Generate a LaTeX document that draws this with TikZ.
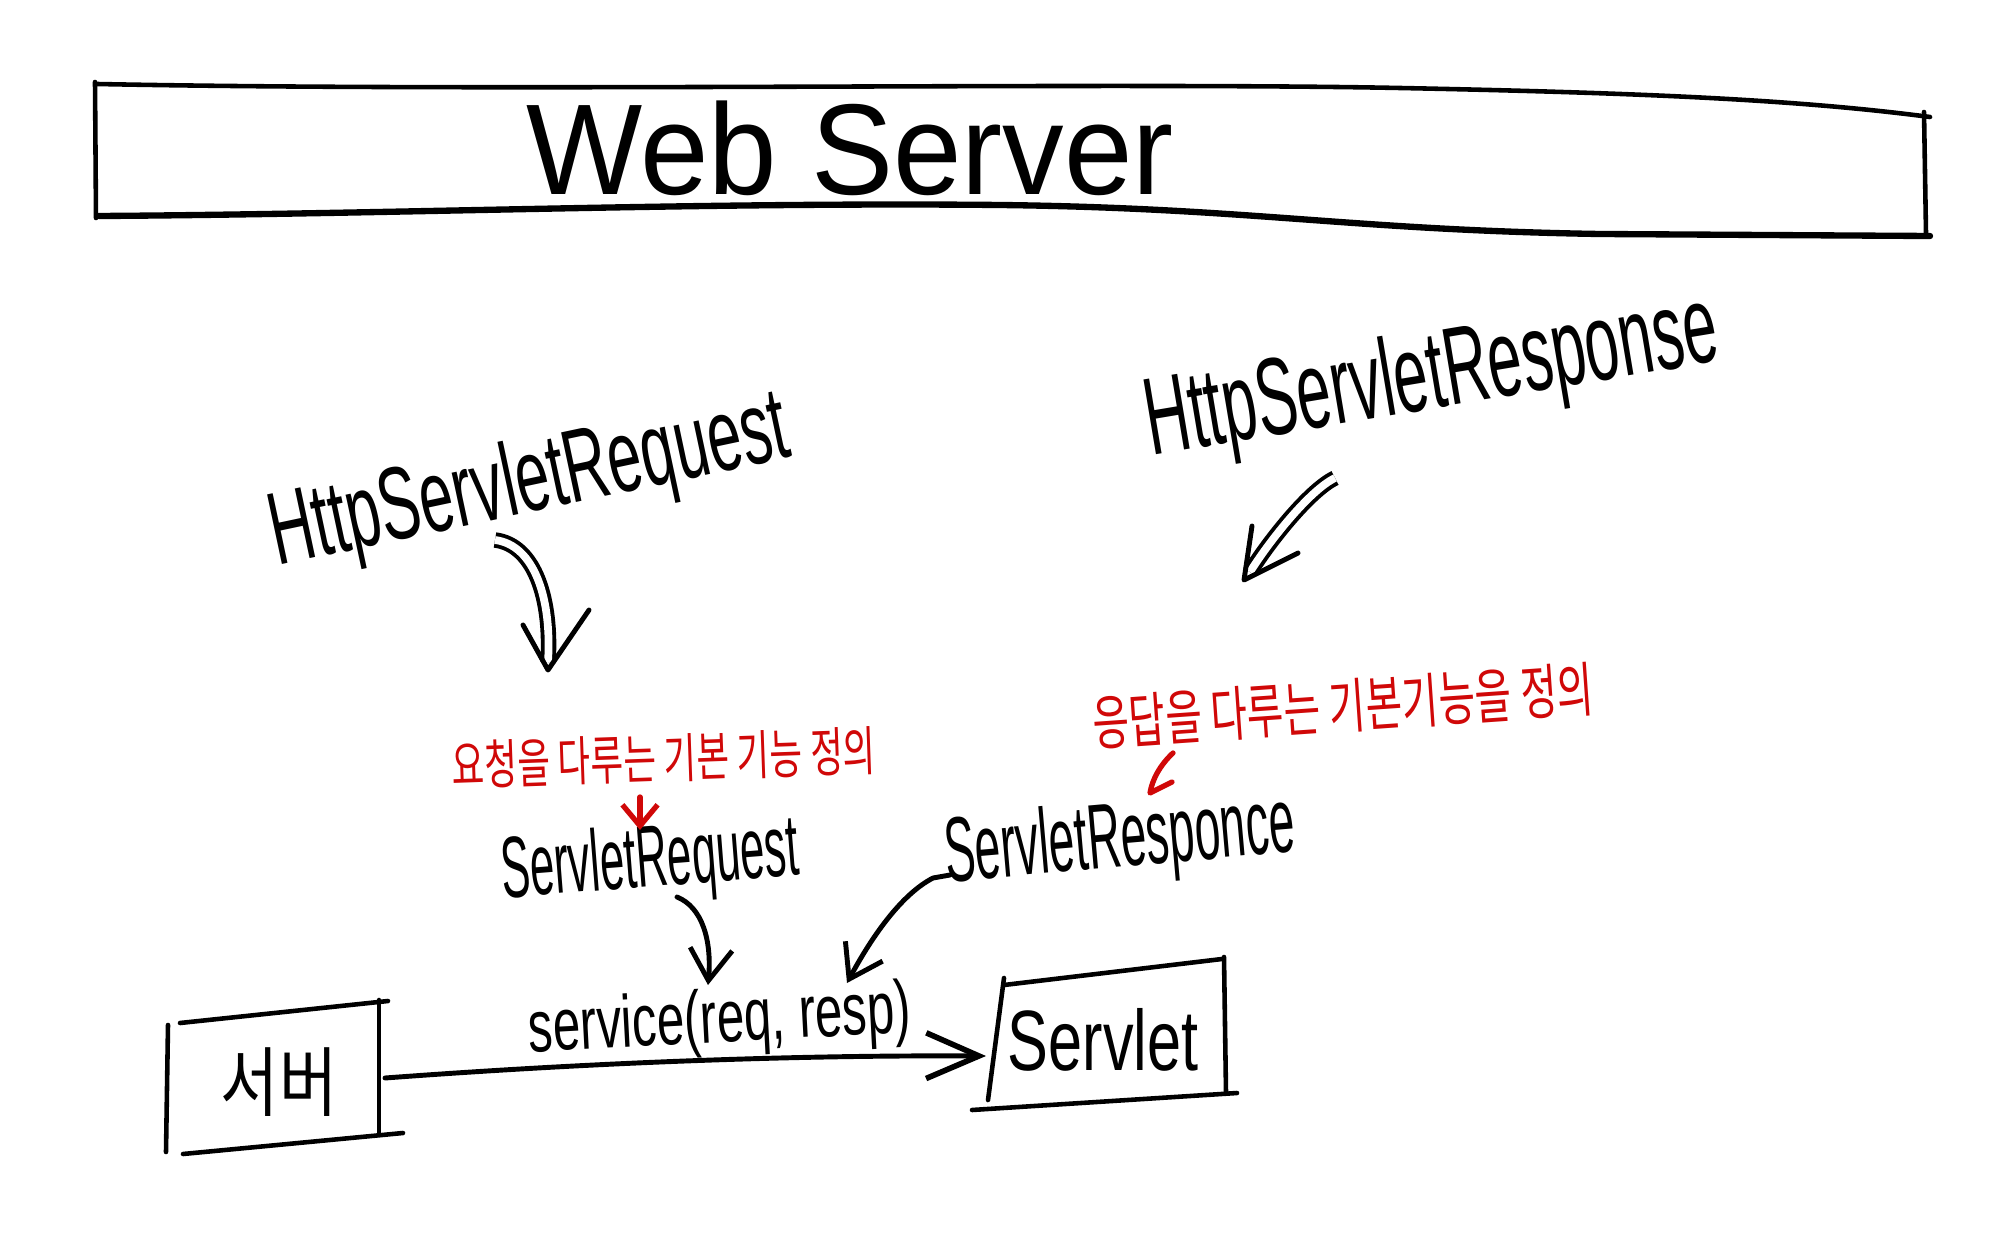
\documentclass[tikz,border=0pt]{standalone}
\usepackage{fontspec}
\usepackage{graphicx}
\setmainfont{Liberation Sans}
\newfontfamily\krfont{Noto Sans CJK KR}
\usetikzlibrary{arrows.meta}
\definecolor{inkred}{RGB}{208,8,8}
\newcommand{\vstretch}[2]{\scalebox{1}[#1]{#2}}

\begin{document}
\begin{tikzpicture}[x=0.01cm,y=-0.01cm,
  ink/.style={line width=1.3pt, line cap=round, line join=round},
  pen/.style={line width=1.4pt, line cap=round, line join=round},
  lbl/.style={inner sep=0pt, outer sep=0pt},
  dbl/.style={line width=1.1pt, double=white, double distance=2.2pt, line cap=butt},
  tipv/.style={-{Straight Barb[length=9pt,width=12pt,line width=1.4pt]}},
  redpen/.style={draw=inkred, line width=1.5pt, line cap=round, line join=round}]

% canvas
\fill[white] (0,0) rectangle (2000,1249);
\useasboundingbox (0,0) rectangle (2000,1249);

% ---- Web Server banner ----
\draw[ink] (97,84) .. controls (500,92) and (1100,82) .. (1400,88)
          .. controls (1650,93) and (1800,100) .. (1930,117);
\draw[ink] (95,82) -- (96,218);
\draw[ink] (1924,112) -- (1926,234);
\draw[ink, line width=1.8pt] (99,216) .. controls (400,214) and (700,202) .. (1000,205)
          .. controls (1250,208) and (1350,230) .. (1600,234) -- (1930,236);
\node[lbl] (web) at (850,148) {\fontsize{35}{40}\selectfont\vstretch{1.05}{Web Server}};

% ---- interface names ----
\node[lbl, rotate=12] (hreq) at (530,485)
  {\fontsize{17.3}{20}\selectfont\vstretch{1.7}{HttpServletRequest}};
\node[lbl, rotate=9.5] (hresp) at (1432,380)
  {\fontsize{17.4}{20}\selectfont\vstretch{1.8}{HttpServletResponse}};

% ---- red notes ----
\node[lbl, rotate=2, text=inkred] (redreq) at (664,758)
  {\krfont\fontsize{10.1}{12}\selectfont\vstretch{1.5}{요청을 다루는 기본 기능 정의}};
\node[lbl, rotate=4, text=inkred] (redresp) at (1343,706)
  {\krfont\fontsize{11.3}{13}\selectfont\vstretch{1.5}{응답을 다루는 기본기능을 정의}};

% ---- servlet-level names ----
\node[lbl, rotate=4.5] (sreq) at (650,864)
  {\fontsize{12.4}{15}\selectfont\vstretch{2}{ServletRequest}};
\node[lbl, rotate=5] (sresp) at (1120,843)
  {\fontsize{13.1}{15}\selectfont\vstretch{2}{ServletResponce}};
\node[lbl, rotate=3] (call) at (720,1023)
  {\fontsize{14}{16}\selectfont\vstretch{1.5}{service(req, resp)}};

% ---- server box ----
\node[lbl] (srv) at (279,1082) {\krfont\fontsize{18}{20}\selectfont\vstretch{1.2}{서버}};
\draw[ink] (168,1025) -- (166,1152);
\draw[ink] (180,1023) -- (388,1001);
\draw[ink] (379,1000) -- (379,1133);
\draw[ink] (183,1154) -- (403,1133);

% ---- servlet box ----
\node[lbl] (servlet) at (1103,1040) {\fontsize{17.4}{20}\selectfont\vstretch{1.4}{Servlet}};
\draw[ink] (1004,978) -- (988,1100);
\draw[ink] (1004,985) -- (1222,959);
\draw[ink] (1224,957) -- (1226,1093);
\draw[ink] (972,1110) -- (1237,1093);

% ---- double arrows from the Http interfaces ----
\coordinate (dlA) at (495,540);
\coordinate (dlB) at (548,670);
\coordinate (dlL) at (523,625);
\coordinate (dlR) at (589,610);
\draw[dbl] (dlA) .. controls (535,545) and (552,600) .. (548,662);
\draw[pen] (dlL) -- (dlB) -- (dlR);

\coordinate (drA) at (1335,478);
\coordinate (drB) at (1244,580);
\coordinate (drL) at (1252,526);
\coordinate (drR) at (1298,553);
\draw[dbl] (drA) .. controls (1310,490) and (1270,540) .. (1250,572);
\draw[pen] (drL) -- (drB) -- (drR);

% ---- red pointers ----
\coordinate (rlA) at (640,797);
\coordinate (rlB) at (640,830);
\draw[redpen, -{Straight Barb[length=6pt,width=10pt,line width=1.5pt]}] (rlA) -- (rlB);

\coordinate (rrA) at (1173,753);
\coordinate (rrB) at (1150,793);
\coordinate (rrC) at (1172,782);
\draw[redpen] (rrA) .. controls (1160,765) and (1152,780) .. (rrB) -- (rrC);

% ---- arrows into service(req, resp) ----
\coordinate (qA) at (677,897);
\coordinate (qB) at (708,985);
\draw[pen, tipv] (qA) .. controls (702,907) and (712,940) .. (qB);

\coordinate (pA) at (950,875);
\coordinate (pM) at (933,878);
\coordinate (pB) at (847,983);
\draw[pen, tipv] (pA) -- (pM) .. controls (900,895) and (870,940) .. (pB);

% ---- call from server to servlet ----
\coordinate (cA) at (385,1078);
\coordinate (cB) at (986,1056);
\draw[pen, -{Straight Barb[length=15pt,width=13pt,line width=1.6pt]}]
  (cA) .. controls (600,1062) and (800,1055) .. (cB);

\end{tikzpicture}
\end{document}
